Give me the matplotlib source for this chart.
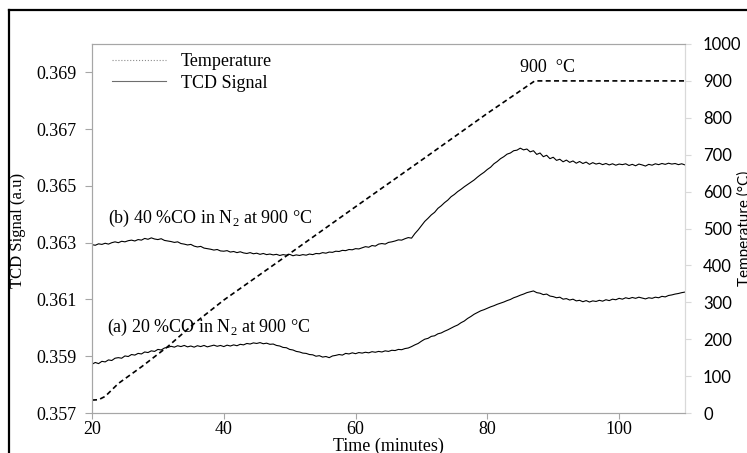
"""TCD signal vs time for CO in N2 at 900 C, with the furnace temperature ramp."""
import matplotlib
matplotlib.use("Agg")
import matplotlib.pyplot as plt  # noqa: E402
import numpy as np  # noqa: E402
from matplotlib.lines import Line2D  # noqa: E402

SERIF = "Liberation Serif"
SANS = "Lato"

plt.rcParams["mathtext.fontset"] = "custom"
plt.rcParams["mathtext.rm"] = SERIF

# temperature programme
temp_t = [20, 21, 22, 24, 27.5, 31.5, 35.6, 40, 50, 60, 70, 80, 87.2, 110]
temp_c = [35, 36, 45, 80, 125, 180, 244, 306, 432, 559, 685, 812, 900, 900]

# TCD signals sampled every 0.5 min from 20 to 110 min
time_min = np.arange(20, 110.25, 0.5)

tcd_40 = [
    0.36293, 0.36291, 0.36296, 0.36294, 0.36298, 0.36295, 0.36300, 0.36303, 0.36300, 0.36305,
    0.36303, 0.36307, 0.36309, 0.36306, 0.36311, 0.36309, 0.36315, 0.36312, 0.36317, 0.36313,
    0.36311, 0.36314, 0.36308, 0.36306, 0.36304, 0.36301, 0.36303, 0.36297, 0.36295, 0.36292,
    0.36294, 0.36288, 0.36285, 0.36287, 0.36281, 0.36279, 0.36277, 0.36274, 0.36276, 0.36271,
    0.36270, 0.36272, 0.36267, 0.36269, 0.36265, 0.36268, 0.36264, 0.36262, 0.36265, 0.36261,
    0.36263, 0.36259, 0.36262, 0.36258, 0.36260, 0.36257, 0.36259, 0.36255, 0.36258, 0.36256,
    0.36259, 0.36254, 0.36257, 0.36255, 0.36258, 0.36256, 0.36260, 0.36258, 0.36262, 0.36261,
    0.36265, 0.36263, 0.36267, 0.36266, 0.36270, 0.36269, 0.36273, 0.36272, 0.36276, 0.36275,
    0.36279, 0.36278, 0.36282, 0.36286, 0.36284, 0.36290, 0.36288, 0.36295, 0.36297, 0.36295,
    0.36301, 0.36303, 0.36306, 0.36310, 0.36309, 0.36314, 0.36318, 0.36316, 0.36332, 0.36345,
    0.36360, 0.36375, 0.36386, 0.36398, 0.36407, 0.36421, 0.36430, 0.36441, 0.36450, 0.36462,
    0.36470, 0.36480, 0.36488, 0.36497, 0.36505, 0.36513, 0.36521, 0.36531, 0.36540, 0.36548,
    0.36558, 0.36566, 0.36578, 0.36586, 0.36596, 0.36603, 0.36612, 0.36616, 0.36624, 0.36626,
    0.36633, 0.36627, 0.36630, 0.36620, 0.36624, 0.36611, 0.36616, 0.36603, 0.36608, 0.36596,
    0.36601, 0.36590, 0.36594, 0.36585, 0.36591, 0.36583, 0.36588, 0.36580, 0.36586, 0.36579,
    0.36584, 0.36576, 0.36582, 0.36577, 0.36580, 0.36575, 0.36579, 0.36574, 0.36578, 0.36573,
    0.36577, 0.36575, 0.36578, 0.36572, 0.36576, 0.36571, 0.36577, 0.36574, 0.36570, 0.36576,
    0.36573, 0.36578, 0.36575, 0.36579, 0.36576, 0.36580, 0.36577, 0.36579, 0.36575, 0.36578,
    0.36574,
]

tcd_20 = [
    0.35872, 0.35878, 0.35874, 0.35882, 0.35880, 0.35887, 0.35885, 0.35893, 0.35895, 0.35893,
    0.35901, 0.35899, 0.35906, 0.35904, 0.35910, 0.35908, 0.35915, 0.35913, 0.35919, 0.35917,
    0.35924, 0.35922, 0.35929, 0.35931, 0.35935, 0.35932, 0.35937, 0.35934, 0.35938, 0.35933,
    0.35936, 0.35932, 0.35937, 0.35934, 0.35938, 0.35933, 0.35936, 0.35939, 0.35935, 0.35938,
    0.35934, 0.35939, 0.35936, 0.35940, 0.35937, 0.35942, 0.35940, 0.35945, 0.35943, 0.35947,
    0.35945, 0.35948, 0.35944, 0.35946, 0.35942, 0.35943, 0.35938, 0.35936, 0.35931, 0.35930,
    0.35924, 0.35922, 0.35917, 0.35915, 0.35911, 0.35910, 0.35906, 0.35905, 0.35900, 0.35902,
    0.35897, 0.35899, 0.35895, 0.35901, 0.35903, 0.35906, 0.35904, 0.35910, 0.35908, 0.35912,
    0.35909, 0.35913, 0.35911, 0.35914, 0.35912, 0.35916, 0.35914, 0.35917, 0.35915, 0.35919,
    0.35917, 0.35921, 0.35920, 0.35924, 0.35923, 0.35927, 0.35929, 0.35934, 0.35940, 0.35945,
    0.35953, 0.35960, 0.35963, 0.35970, 0.35972, 0.35979, 0.35982, 0.35988, 0.35993, 0.35999,
    0.36005, 0.36010, 0.36018, 0.36024, 0.36033, 0.36040, 0.36048, 0.36054, 0.36060, 0.36064,
    0.36069, 0.36074, 0.36078, 0.36083, 0.36087, 0.36091, 0.36096, 0.36100, 0.36106, 0.36110,
    0.36115, 0.36119, 0.36124, 0.36127, 0.36130, 0.36124, 0.36122, 0.36117, 0.36119, 0.36112,
    0.36110, 0.36106, 0.36108, 0.36101, 0.36103, 0.36098, 0.36101, 0.36095, 0.36097, 0.36092,
    0.36096, 0.36091, 0.36095, 0.36093, 0.36097, 0.36094, 0.36099, 0.36096, 0.36101, 0.36099,
    0.36104, 0.36101, 0.36106, 0.36103, 0.36107, 0.36104, 0.36108, 0.36105, 0.36102, 0.36106,
    0.36104, 0.36108, 0.36106, 0.36111, 0.36109, 0.36114, 0.36116, 0.36119, 0.36121, 0.36124,
    0.36126,
]

left_ticks = [0.357, 0.359, 0.361, 0.363, 0.365, 0.367, 0.369]
right_ticks = list(range(0, 1001, 100))
x_ticks = [20, 40, 60, 80, 100]

GRAY = "#a6a6a6"
LIGHT = "#d9d9d9"

fig = plt.figure(figsize=(7.47, 4.53), dpi=100)
ax = fig.add_axes([92 / 747, 1 - 413 / 453, 593 / 747, 369 / 453])
ax2 = ax.twinx()

ax.plot(time_min, tcd_40, color="black", lw=0.8)
ax.plot(time_min, tcd_20, color="black", lw=0.8)
ax2.plot(temp_t, temp_c, color="black", lw=1.2, ls=(0, (3, 2)))

ax.set_xlim(20, 110)
ax.set_ylim(0.357, 0.370)
ax2.set_ylim(0, 1000)
ax.set_xticks(x_ticks)
ax.set_yticks(left_ticks)
ax.set_yticklabels([f"{v:.3f}" for v in left_ticks], fontfamily=SERIF, fontsize=13)
ax.set_xticklabels([str(v) for v in x_ticks], fontfamily=SERIF, fontsize=13)
ax2.set_yticks(right_ticks)
ax2.set_yticklabels([str(v) for v in right_ticks], fontfamily=SANS, fontsize=12)

for a in (ax, ax2):
    for side in ("left", "bottom", "top"):
        a.spines[side].set_color(GRAY)
    a.spines["right"].set_color(LIGHT)
ax.tick_params(axis="y", color=GRAY, length=5, pad=6)
ax.tick_params(axis="x", color=GRAY, length=4, pad=2)
ax2.tick_params(axis="y", color=LIGHT, length=4, pad=9)

fig.text(388 / 747, 1 - 446 / 453, "Time (minutes)", family=SERIF, fontsize=13,
         ha="center", va="center")
fig.text(18 / 747, 1 - 230 / 453, "TCD Signal (a.u)", family=SERIF, fontsize=12,
         ha="center", va="center", rotation=90)
fig.text(744 / 747, 1 - 228 / 453, "Temperature (°C)", family=SANS, fontsize=11,
         ha="center", va="center", rotation=90)

ax2.text(85.0, 935, "900  °C", family=SERIF, fontsize=13, va="center")
ax.text(22.4, 0.36384, r"(b) 40 %CO in N$_{\mathrm{2}}$ at 900 °C", family=SERIF,
        fontsize=13, va="center")
ax.text(22.3, 0.36002, r"(a) 20 %CO in N$_{\mathrm{2}}$ at 900 °C", family=SERIF,
        fontsize=13, va="center")

handles = [Line2D([], [], color="#8c8c8c", lw=0.8, ls=":"),
           Line2D([], [], color="#6e6e6e", lw=0.8)]
ax2.legend(handles, ["Temperature", "TCD Signal"], loc="upper left",
           bbox_to_anchor=(0.034, 0.975), frameon=False, borderpad=0, borderaxespad=0,
           handlelength=3.0, handletextpad=0.8, labelspacing=0.25,
           prop={"family": SERIF, "size": 13})

# outer frame of the original figure (only top and left edges are in view)
fig.add_artist(Line2D([9 / 747, 1], [1 - 10 / 453, 1 - 10 / 453], color="black", lw=1.6))
fig.add_artist(Line2D([9 / 747, 9 / 747], [0, 1 - 10 / 453], color="black", lw=1.6))

fig.savefig("out.png", dpi=100)
